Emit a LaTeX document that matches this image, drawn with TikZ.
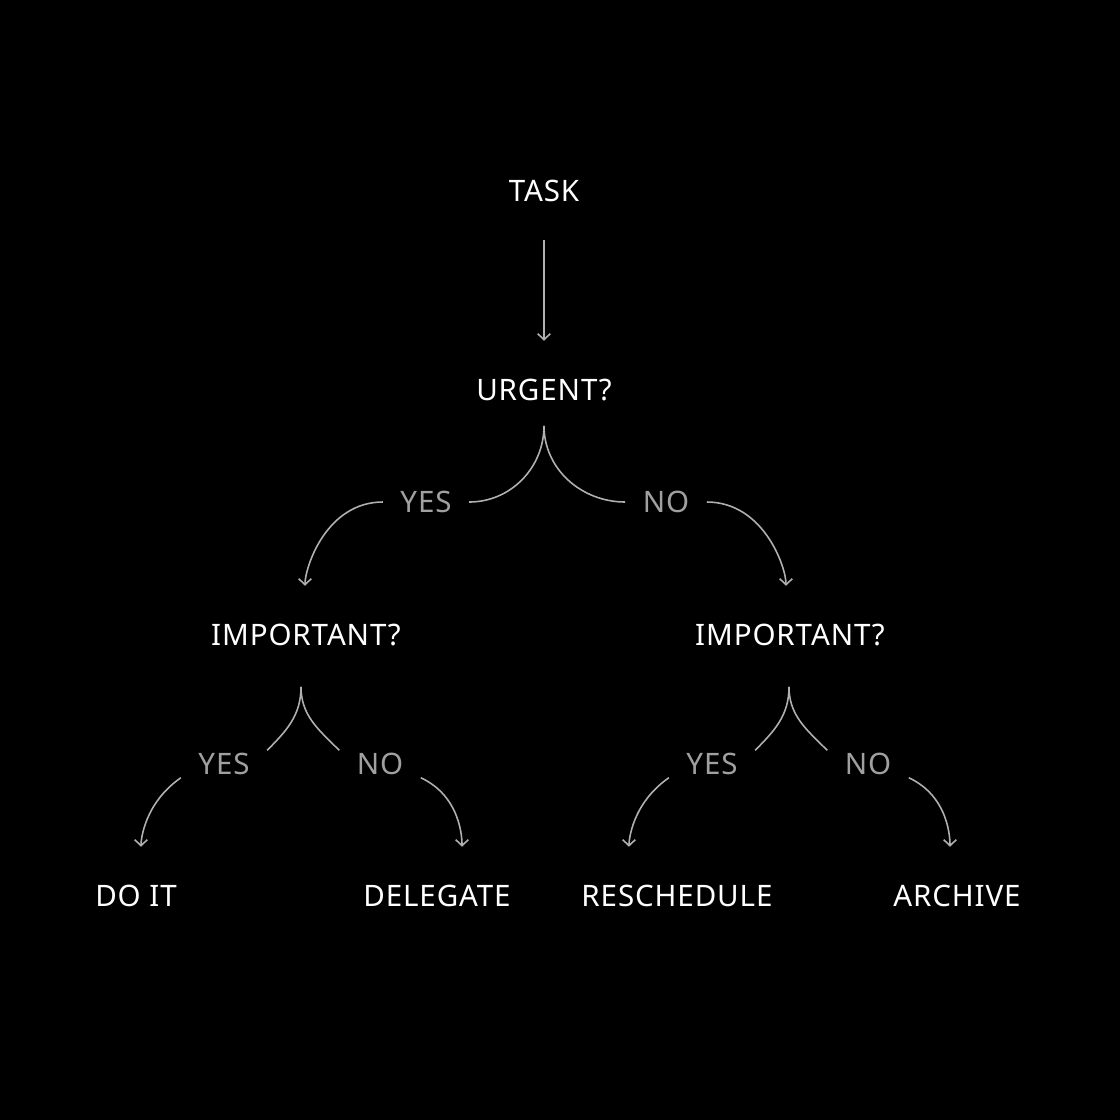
\documentclass[tikz,border=0pt]{standalone}
\usepackage{fontspec}
\setmainfont[LetterSpace=3]{Noto Sans}
\usetikzlibrary{arrows.meta}
\definecolor{linegray}{HTML}{B0B0B0}
\definecolor{labelgray}{HTML}{A0A0A0}
\tikzset{
  question/.style={inner sep=0pt,text height=6pt,text depth=0pt,
    text=white,font=\fontsize{8.4}{10}\selectfont},
  answer/.style={inner xsep=4.8pt,inner ysep=0.7pt,text height=6pt,text depth=0pt,
    text=labelgray,font=\fontsize{8.4}{10}\selectfont},
  link/.style={draw=linegray,line width=0.45pt},
  arrow/.style={link,-{Straight Barb[length=1.7pt,width=3.6pt]},shorten >=0.38cm}
}
\begin{document}
\begin{tikzpicture}[x=0.01cm,y=-0.01cm]
\fill[black] (0,0) rectangle (1120,1120);
\node[question] (task) at (544,191) {TASK};
\node[question] (urgent) at (544,390) {URGENT?};
\node[question] (limp) at (306,635) {IMPORTANT?};
\node[question] (rimp) at (790,635) {IMPORTANT?};
\node[question] (doit) at (136,896) {DO IT};
\node[question] (delegate) at (437,896) {DELEGATE};
\node[question] (reschedule) at (677,896) {RESCHEDULE};
\node[question] (archive) at (957,896) {ARCHIVE};
\node[answer] (uyes) at (426,502) {YES};
\node[answer] (uno) at (666,502) {NO};
\node[answer] (lyes) at (224,764) {YES};
\node[answer] (lno) at (380,764) {NO};
\node[answer] (ryes) at (712,764) {YES};
\node[answer] (rno) at (868,764) {NO};
\coordinate (ufork) at ([yshift=-0.245cm]urgent.south);
\coordinate (lfork) at ([xshift=-0.05cm,yshift=-0.405cm]limp.south);
\coordinate (rfork) at ([xshift=-0.01cm,yshift=-0.405cm]rimp.south);
\draw[arrow,shorten <=0.38cm] (task) -- (urgent);
\draw[link] (ufork) to[out=-90,in=0] (uyes.east);
\draw[arrow] (uyes.west) to[out=180,in=90] ([xshift=-0.01cm]limp.north);
\draw[link] (ufork) to[out=-90,in=180] (uno.west);
\draw[arrow] (uno.east) to[out=0,in=90] ([xshift=-0.04cm]rimp.north);
\draw[link] (lfork) to[out=-90,in=45] (lyes.north east);
\draw[arrow] (lyes.south west) to[out=215,in=90] ([xshift=0.05cm]doit.north);
\draw[link] (lfork) to[out=-90,in=135] (lno.north west);
\draw[arrow] (lno.south east) to[out=-25,in=90] ([xshift=0.25cm]delegate.north);
\draw[link] (rfork) to[out=-90,in=45] (ryes.north east);
\draw[arrow] (ryes.south west) to[out=215,in=90] ([xshift=-0.48cm]reschedule.north);
\draw[link] (rfork) to[out=-90,in=135] (rno.north west);
\draw[arrow] (rno.south east) to[out=-25,in=90] ([xshift=-0.07cm]archive.north);
\end{tikzpicture}
\end{document}
